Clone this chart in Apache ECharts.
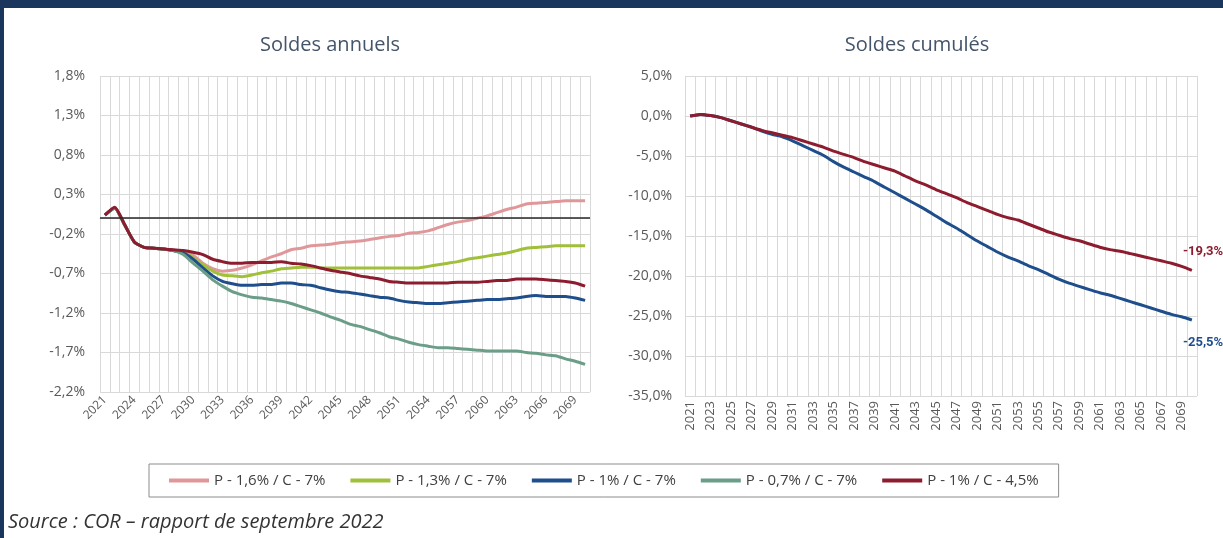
<!DOCTYPE html>
<html>
<head>
<meta charset="utf-8">
<script src="https://cdn.jsdelivr.net/npm/echarts@6/dist/echarts.min.js"></script>
<style>
  html, body { margin: 0; padding: 0; background: #fff; }
  #chart { width: 1223px; height: 538px; }
</style>
</head>
<body>
<div id="chart"></div>
<script>
// années (axe des abscisses des deux graphiques)
const years = [
  '2021','2022','2023','2024','2025','2026','2027','2028','2029','2030',
  '2031','2032','2033','2034','2035','2036','2037','2038','2039','2040',
  '2041','2042','2043','2044','2045','2046','2047','2048','2049','2050',
  '2051','2052','2053','2054','2055','2056','2057','2058','2059','2060',
  '2061','2062','2063','2064','2065','2066','2067','2068','2069','2070'
];

const seriesNames = ['P - 1,6% / C - 7%', 'P - 1,3% / C - 7%', 'P - 1% / C - 7%', 'P - 0,7% / C - 7%', 'P - 1% / C - 4,5%'];

// soldes annuels (% )
const annualP16 = [
  0.04, 0.13, -0.08, -0.30, -0.37, -0.38, -0.39, -0.41, -0.42, -0.47,
  -0.57, -0.64, -0.67, -0.66, -0.63, -0.59, -0.54, -0.49, -0.45, -0.40,
  -0.38, -0.35, -0.34, -0.33, -0.31, -0.30, -0.29, -0.27, -0.25, -0.23,
  -0.22, -0.19, -0.18, -0.16, -0.12, -0.08, -0.05, -0.03, 0.00, 0.03,
  0.07, 0.11, 0.14, 0.18, 0.19, 0.20, 0.21, 0.22, 0.22, 0.22
];
const annualP13 = [
  0.04, 0.13, -0.08, -0.30, -0.37, -0.38, -0.39, -0.41, -0.43, -0.50,
  -0.59, -0.67, -0.72, -0.73, -0.74, -0.72, -0.69, -0.67, -0.64, -0.63,
  -0.62, -0.62, -0.63, -0.63, -0.63, -0.63, -0.63, -0.63, -0.63, -0.63,
  -0.63, -0.63, -0.63, -0.61, -0.59, -0.57, -0.55, -0.52, -0.50, -0.48,
  -0.46, -0.44, -0.41, -0.38, -0.37, -0.36, -0.35, -0.35, -0.35, -0.35
];
const annualP1 = [
  0.04, 0.13, -0.08, -0.30, -0.37, -0.38, -0.39, -0.41, -0.44, -0.52,
  -0.63, -0.73, -0.80, -0.83, -0.85, -0.85, -0.84, -0.84, -0.82, -0.82,
  -0.84, -0.85, -0.88, -0.91, -0.93, -0.94, -0.96, -0.98, -1.00, -1.01,
  -1.04, -1.06, -1.07, -1.08, -1.08, -1.07, -1.06, -1.05, -1.04, -1.03,
  -1.03, -1.02, -1.01, -0.99, -0.98, -0.99, -0.99, -0.99, -1.01, -1.04
];
const annualP07 = [
  0.04, 0.13, -0.08, -0.30, -0.37, -0.38, -0.39, -0.41, -0.46, -0.57,
  -0.67, -0.78, -0.86, -0.93, -0.97, -1.00, -1.01, -1.03, -1.05, -1.08,
  -1.12, -1.16, -1.20, -1.25, -1.29, -1.34, -1.37, -1.41, -1.45, -1.50,
  -1.53, -1.57, -1.60, -1.62, -1.64, -1.64, -1.65, -1.66, -1.67, -1.68,
  -1.68, -1.68, -1.68, -1.70, -1.71, -1.73, -1.74, -1.78, -1.81, -1.85
];
const annualP1C45 = [
  0.04, 0.14, -0.08, -0.30, -0.37, -0.38, -0.39, -0.40, -0.41, -0.43,
  -0.46, -0.52, -0.55, -0.57, -0.57, -0.56, -0.56, -0.56, -0.55, -0.57,
  -0.58, -0.60, -0.63, -0.66, -0.68, -0.70, -0.73, -0.75, -0.77, -0.80,
  -0.81, -0.82, -0.82, -0.82, -0.82, -0.82, -0.81, -0.81, -0.81, -0.80,
  -0.79, -0.79, -0.77, -0.77, -0.77, -0.78, -0.79, -0.80, -0.82, -0.86
];

// soldes cumulés (%)
const cumulP1 = [
  0.0, 0.2, 0.05, -0.2, -0.6, -1.0, -1.4, -1.9, -2.3, -2.6,
  -3.1, -3.7, -4.3, -4.9, -5.7, -6.4, -7.0, -7.6, -8.2, -8.9,
  -9.6, -10.3, -11.0, -11.7, -12.5, -13.3, -14.0, -14.8, -15.6, -16.3,
  -17.0, -17.6, -18.1, -18.7, -19.2, -19.8, -20.4, -20.9, -21.3, -21.7,
  -22.1, -22.4, -22.8, -23.2, -23.6, -24.0, -24.4, -24.8, -25.1, -25.5
];
const cumulP1C45 = [
  0.0, 0.2, 0.05, -0.2, -0.6, -1.0, -1.4, -1.8, -2.1, -2.4,
  -2.7, -3.1, -3.5, -3.9, -4.4, -4.8, -5.2, -5.7, -6.1, -6.5,
  -6.9, -7.5, -8.1, -8.6, -9.2, -9.7, -10.2, -10.8, -11.3, -11.8,
  -12.3, -12.7, -13.0, -13.5, -14.0, -14.5, -14.9, -15.3, -15.6, -16.0,
  -16.4, -16.7, -16.9, -17.2, -17.5, -17.8, -18.1, -18.4, -18.8, -19.3
];

// graduations de l'axe des soldes annuels
const annualTicks = [-2.2, -1.7, -1.2, -0.7, -0.2, 0.3, 0.8, 1.3, 1.8];

const colors = ['#e0979a', '#a0c03a', '#1f4e8c', '#6b9e88', '#8c1c2e'];
const labelFont = "'Open Sans', sans-serif";

const pct1 = v => v.toFixed(1).replace('.', ',') + '%';

function annualLine(name, data, color, extra) {
  return Object.assign({
    name: name,
    type: 'line',
    xAxisIndex: 0,
    yAxisIndex: 0,
    data: data,
    symbol: 'none',
    smooth: 0.2,
    lineStyle: { color: color, width: 3 },
    itemStyle: { color: color }
  }, extra || {});
}

const chart = echarts.init(document.getElementById('chart'));

chart.setOption({
  animation: false,
  backgroundColor: '#fff',
  title: [
    { text: 'Soldes annuels', left: 325, top: 30, textAlign: 'center',
      textStyle: { fontFamily: labelFont, fontSize: 20, fontWeight: 'normal', color: '#44546a' } },
    { text: 'Soldes cumulés', left: 912, top: 30, textAlign: 'center',
      textStyle: { fontFamily: labelFont, fontSize: 20, fontWeight: 'normal', color: '#44546a' } }
  ],
  legend: {
    data: seriesNames,
    left: 149,
    top: 464,
    padding: [9, 20],
    itemGap: 25,
    itemWidth: 40,
    itemHeight: 4,
    icon: 'rect',
    borderColor: '#8c8c8c',
    borderWidth: 1,
    textStyle: { fontFamily: labelFont, fontSize: 15, color: '#404040' }
  },
  grid: [
    { left: 100, right: 633, top: 76, bottom: 146 },
    { left: 685, right: 26, top: 76, bottom: 142 }
  ],
  xAxis: [
    {
      type: 'category', gridIndex: 0, data: years, boundaryGap: true,
      axisLine: { lineStyle: { color: '#d9d9d9' } },
      axisTick: { show: false },
      axisLabel: { interval: 2, rotate: 45, margin: 6, color: '#595959', fontFamily: labelFont, fontSize: 12 },
      splitLine: { show: true, interval: 0, lineStyle: { color: '#d9d9d9' } }
    },
    {
      type: 'category', gridIndex: 1, data: years, boundaryGap: true,
      axisLine: { lineStyle: { color: '#d9d9d9' } },
      axisTick: { show: false },
      axisLabel: { interval: 1, rotate: 90, margin: 5, color: '#595959', fontFamily: labelFont, fontSize: 13 },
      splitLine: { show: true, interval: 0, lineStyle: { color: '#d9d9d9' } }
    }
  ],
  yAxis: [
    {
      type: 'value', gridIndex: 0, min: -2.2, max: 1.8,
      axisLine: { show: false },
      axisTick: { show: false, customValues: annualTicks },
      axisLabel: { customValues: annualTicks, formatter: pct1, margin: 15, color: '#595959', fontFamily: labelFont, fontSize: 14 },
      splitLine: { show: true, lineStyle: { color: '#d9d9d9' } }
    },
    {
      type: 'value', gridIndex: 1, min: -35, max: 5, interval: 5,
      axisLine: { show: false },
      axisTick: { show: false },
      axisLabel: { formatter: pct1, margin: 13, color: '#595959', fontFamily: labelFont, fontSize: 14 },
      splitLine: { show: true, lineStyle: { color: '#d9d9d9' } }
    }
  ],
  series: [
    annualLine(seriesNames[0], annualP16, colors[0], {
      markLine: {
        silent: true,
        symbol: ['none', 'none'],
        label: { show: false },
        lineStyle: { color: '#262626', width: 1.5, type: 'solid' },
        data: [{ yAxis: 0 }]
      }
    }),
    annualLine(seriesNames[1], annualP13, colors[1]),
    annualLine(seriesNames[2], annualP1, colors[2]),
    annualLine(seriesNames[3], annualP07, colors[3]),
    annualLine(seriesNames[4], annualP1C45, colors[4]),
    {
      name: seriesNames[2], type: 'line', xAxisIndex: 1, yAxisIndex: 1,
      data: cumulP1, symbol: 'none', smooth: 0.2,
      lineStyle: { color: colors[2], width: 3 }, itemStyle: { color: colors[2] },
      endLabel: { show: true, formatter: '-25,5%', offset: [-17, 23], color: colors[2],
        fontFamily: 'Roboto, sans-serif', fontSize: 13, fontWeight: 'bold' }
    },
    {
      name: seriesNames[4], type: 'line', xAxisIndex: 1, yAxisIndex: 1,
      data: cumulP1C45, symbol: 'none', smooth: 0.2,
      lineStyle: { color: colors[4], width: 3 }, itemStyle: { color: colors[4] },
      endLabel: { show: true, formatter: '-19,3%', offset: [-17, -19], color: colors[4],
        fontFamily: 'Roboto, sans-serif', fontSize: 13, fontWeight: 'bold' }
    }
  ],
  graphic: [
    { type: 'rect', left: 0, top: 0, shape: { width: 1223, height: 8 }, style: { fill: '#1b365d' } },
    { type: 'rect', left: 0, top: 0, shape: { width: 4, height: 538 }, style: { fill: '#1b365d' } },
    { type: 'text', left: 8, top: 512,
      style: { text: 'Source : COR – rapport de septembre 2022', fill: '#333333',
        font: "italic 20px 'Open Sans', sans-serif" } }
  ]
});
</script>
</body>
</html>
